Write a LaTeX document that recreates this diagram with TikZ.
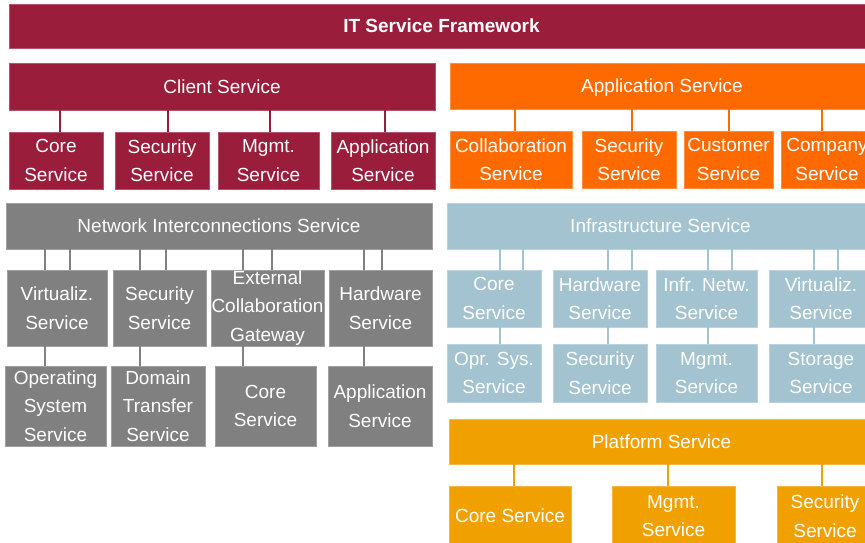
\documentclass[tikz,border=0pt]{standalone}
\usepackage{fontspec}
\setmainfont{Liberation Sans}

\definecolor{crimson}{RGB}{154,30,60}
\definecolor{apporange}{RGB}{255,106,0}
\definecolor{netgray}{RGB}{128,128,128}
\definecolor{infrablue}{RGB}{162,195,207}
\definecolor{platamber}{RGB}{240,160,0}

\tikzset{
  bar/.style={fill=#1, draw=#1!75!white, line width=0.6pt, text=white, inner sep=0pt, text height=13.6pt, text depth=0pt},
  box/.style={fill=#1, draw=#1!75!white, line width=0.6pt, text=white, inner sep=0pt, align=center},
  link/.style={draw=#1, line width=2pt},
}

\begin{document}
\begin{tikzpicture}[x=1pt, y=-1pt, font=\fontsize{19}{28.5}\selectfont]
      % Fix the page size
      \path[use as bounding box, clip] (0,0) rectangle (865,542);
      \fill[white] (0,0) rectangle (865,542);

      % Draw the title bar
      \node[bar=crimson, minimum width=865pt, minimum height=44pt, font=\fontsize{19}{23}\selectfont\bfseries] (title) at (441.5,26) {IT Service Framework};

      % Client service
      \node[bar=crimson, minimum width=426pt, minimum height=47pt] (client) at (222,86.5) {Client Service};
      \node[box=crimson, minimum width=94pt, minimum height=57pt] (ccore) at (56,160.5) {Core\\Service};
      \node[box=crimson, minimum width=94pt, minimum height=57pt] (csec) at (162,160.5) {Security\\Service};
      \node[box=crimson, minimum width=101pt, minimum height=57pt] (cmgmt) at (268.5,160.5) {Mgmt.\\Service};
      \node[box=crimson, minimum width=104pt, minimum height=57pt] (capp) at (383,160.5) {Application\\Service};
      \draw[link=crimson] ([xshift=4pt]ccore.north) -- ([xshift=4pt]ccore.north |- client.south);
      \draw[link=crimson] ([xshift=6pt]csec.north) -- ([xshift=6pt]csec.north |- client.south);
      \draw[link=crimson] ([xshift=1.5pt]cmgmt.north) -- ([xshift=1.5pt]cmgmt.north |- client.south);
      \draw[link=crimson] ([xshift=2pt]capp.north) -- ([xshift=2pt]capp.north |- client.south);

      % Application service
      \node[bar=apporange, minimum width=424pt, minimum height=46pt] (app) at (662,86) {Application Service};
      \node[box=apporange, minimum width=122pt, minimum height=57pt] (acol) at (511,159.5) {Collaboration\\Service};
      \node[box=apporange, minimum width=94pt, minimum height=57pt] (asec) at (629,159.5) {Security\\Service};
      \node[box=apporange, minimum width=89pt, minimum height=57pt] (acust) at (728.5,159.5) {Customer\\Service};
      \node[box=apporange, minimum width=92pt, minimum height=57pt] (acomp) at (827,159.5) {Company\\Service};
      \draw[link=apporange] ([xshift=4pt]acol.north) -- ([xshift=4pt]acol.north |- app.south);
      \draw[link=apporange] ([xshift=3pt]asec.north) -- ([xshift=3pt]asec.north |- app.south);
      \draw[link=apporange] (acust.north) -- (acust.north |- app.south);
      \draw[link=apporange] ([xshift=-5pt]acomp.north) -- ([xshift=-5pt]acomp.north |- app.south);

      % Network interconnections service
      \node[bar=netgray, minimum width=426pt, minimum height=46pt] (net) at (219,226) {Network Interconnections Service};
      \node[box=netgray, minimum width=100pt, minimum height=76pt] (nvirt) at (57,308) {Virtualiz.\\Service};
      \node[box=netgray, minimum width=93pt, minimum height=76pt] (nsec) at (159.5,308) {Security\\Service};
      \node[box=netgray, minimum width=113pt, minimum height=76pt] (next) at (267.5,308) {External\\Collaboration\\Gateway};
      \node[box=netgray, minimum width=103pt, minimum height=76pt] (nhw) at (380.5,308) {Hardware\\Service};
      \node[box=netgray, minimum width=101pt, minimum height=80pt] (nos) at (55.5,406) {Operating\\System\\Service};
      \node[box=netgray, minimum width=94pt, minimum height=80pt] (ndom) at (158,406) {Domain\\Transfer\\Service};
      \node[box=netgray, minimum width=101pt, minimum height=80pt] (ncore) at (265.5,406) {Core\\Service};
      \node[box=netgray, minimum width=104pt, minimum height=80pt] (napp) at (380,406) {Application\\Service};
      \foreach \n/\a/\b in {nvirt/-12/13, nsec/-19.5/6.5, next/-24.5/4.5, nhw/-16.5/1.5} {
        \draw[link=netgray] ([xshift=\a pt]\n.north) -- ([xshift=\a pt]\n.north |- net.south);
        \draw[link=netgray] ([xshift=\b pt]\n.north) -- ([xshift=\b pt]\n.north |- net.south);
      }
      \draw[link=netgray] ([xshift=-12pt]nvirt.south) -- ([xshift=-12pt]nvirt.south |- nos.north);
      \draw[link=netgray] ([xshift=-19.5pt]nsec.south) -- ([xshift=-19.5pt]nsec.south |- ndom.north);
      \draw[link=netgray] ([xshift=-24.5pt]next.south) -- ([xshift=-24.5pt]next.south |- ncore.north);
      \draw[link=netgray] ([xshift=-16.5pt]nhw.south) -- ([xshift=-16.5pt]nhw.south |- napp.north);

      % Infrastructure service
      \node[bar=infrablue, minimum width=427pt, minimum height=46pt] (infra) at (660.5,226) {Infrastructure Service};
      \node[box=infrablue, minimum width=94pt, minimum height=57pt] (icore) at (494,298.5) {Core\\Service};
      \node[box=infrablue, minimum width=94pt, minimum height=57pt] (ihw) at (600,298.5) {Hardware\\Service};
      \node[box=infrablue, minimum width=101pt, minimum height=57pt] (inet) at (706.5,298.5) {Infr. Netw.\\Service};
      \node[box=infrablue, minimum width=104pt, minimum height=57pt] (ivirt) at (821,298.5) {Virtualiz.\\Service};
      \node[box=infrablue, minimum width=94pt, minimum height=58pt] (ios) at (494,373) {Opr. Sys.\\Service};
      \node[box=infrablue, minimum width=94pt, minimum height=58pt] (isec) at (600,373) {Security\\Service};
      \node[box=infrablue, minimum width=101pt, minimum height=58pt] (imgmt) at (706.5,373) {Mgmt.\\Service};
      \node[box=infrablue, minimum width=104pt, minimum height=58pt] (istor) at (821,373) {Storage\\Service};
      \foreach \n/\a/\b in {icore/6/29, ihw/8/32, inet/1.5/25.5, ivirt/-7/17} {
        \draw[link=infrablue] ([xshift=\a pt]\n.north) -- ([xshift=\a pt]\n.north |- infra.south);
        \draw[link=infrablue] ([xshift=\b pt]\n.north) -- ([xshift=\b pt]\n.north |- infra.south);
      }
      \draw[link=infrablue] ([xshift=6pt]icore.south) -- ([xshift=6pt]icore.south |- ios.north);
      \draw[link=infrablue] ([xshift=8pt]ihw.south) -- ([xshift=8pt]ihw.south |- isec.north);
      \draw[link=infrablue] ([xshift=1.5pt]inet.south) -- ([xshift=1.5pt]inet.south |- imgmt.north);
      \draw[link=infrablue] ([xshift=-7pt]ivirt.south) -- ([xshift=-7pt]ivirt.south |- istor.north);

      % Platform service
      \node[bar=platamber, minimum width=425pt, minimum height=45pt] (plat) at (661.5,441.5) {Platform Service};
      \node[box=platamber, minimum width=122pt, minimum height=60pt] (pcore) at (510,516) {Core Service};
      \node[box=platamber, minimum width=123pt, minimum height=60pt] (pmgmt) at (673.5,516) {Mgmt.\\Service};
      \node[box=platamber, minimum width=96pt, minimum height=60pt] (psec) at (825,516) {Security\\Service};
      \draw[link=platamber] ([xshift=4pt]pcore.north) -- ([xshift=4pt]pcore.north |- plat.south);
      \draw[link=platamber] ([xshift=-5.5pt]pmgmt.north) -- ([xshift=-5.5pt]pmgmt.north |- plat.south);
      \draw[link=platamber] ([xshift=-3pt]psec.north) -- ([xshift=-3pt]psec.north |- plat.south);
  \end{tikzpicture}
\end{document}
